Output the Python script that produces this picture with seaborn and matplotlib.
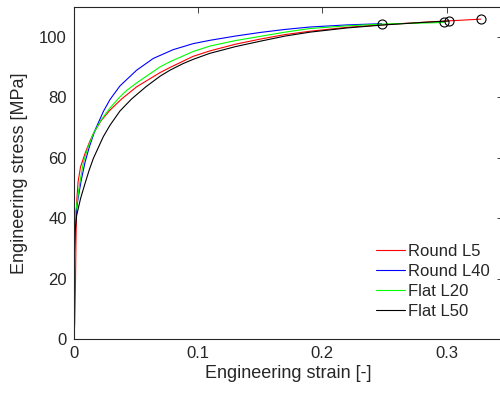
import numpy as np
import pandas as pd
import matplotlib
matplotlib.use("Agg")
import matplotlib.pyplot as plt
import seaborn as sns

# Engineering stress-strain curves for four specimen geometries
round_l5_strain = [0, 0.0008, 0.0014, 0.0018, 0.0022, 0.0025, 0.0035, 0.0055, 0.0091, 0.0125,
                   0.0158, 0.022, 0.0292, 0.0386, 0.0506, 0.0694, 0.0774, 0.0961, 0.1096, 0.13,
                   0.15, 0.17, 0.19, 0.22, 0.25, 0.2865, 0.3274]
round_l5_stress = [0, 5, 18, 32, 41, 46, 52, 57, 61.4, 65,
                   68, 72.3, 75.8, 79.5, 83.5, 88.2, 89.9, 93.6, 95.4, 97.6,
                   99.3, 100.8, 101.9, 103.2, 104.1, 105.0, 105.9]

round_l40_strain = [0, 0.0004, 0.0012, 0.0022, 0.0035, 0.006, 0.0091, 0.0125, 0.0171, 0.0238,
                    0.0292, 0.0372, 0.0506, 0.064, 0.08, 0.0961, 0.1096, 0.13, 0.15, 0.17,
                    0.19, 0.22, 0.2476]
round_l40_stress = [0, 25, 38, 43, 46.5, 52.5, 58.5, 63.5, 69.1, 75.3,
                    79.3, 83.8, 89.0, 92.9, 95.8, 97.8, 98.9, 100.3, 101.5, 102.5,
                    103.3, 104.0, 104.4]

flat_l20_strain = [0, 0.0003, 0.0008, 0.0015, 0.003, 0.005, 0.0078, 0.0115, 0.0158, 0.022,
                   0.0292, 0.0372, 0.0426, 0.0506, 0.0694, 0.0774, 0.0961, 0.1096, 0.13, 0.15,
                   0.17, 0.19, 0.22, 0.25, 0.298]
flat_l20_stress = [0, 20, 36, 42, 46, 52, 58.5, 63.5, 68, 72.5,
                   76.5, 80.2, 82.3, 84.8, 90.1, 91.8, 95.2, 97.0, 98.8, 100.2,
                   101.6, 102.8, 103.7, 104.3, 104.8]

flat_l50_strain = [0, 0.0003, 0.0012, 0.0024, 0.0055, 0.0091, 0.0125, 0.0158, 0.0238, 0.0292,
                   0.0372, 0.0466, 0.058, 0.0694, 0.0774, 0.088, 0.0961, 0.1096, 0.13, 0.15,
                   0.17, 0.19, 0.22, 0.25, 0.28, 0.3017]
flat_l50_stress = [0, 25, 36, 41, 46.5, 51.5, 56, 59.8, 67, 70.8,
                   75.5, 79.5, 83.5, 87.0, 89.0, 91.2, 92.6, 94.6, 96.8, 98.6,
                   100.3, 101.6, 103.0, 104.0, 104.8, 105.3]

series_names = ["Round L5", "Round L40", "Flat L20", "Flat L50"]
series_colors = ["#ff0000", "#0000ff", "#00ff00", "#000000"]
x_ticks = [0, 0.1, 0.2, 0.3]
x_tick_labels = ["0", "0.1", "0.2", "0.3"]
y_ticks = [0, 20, 40, 60, 80, 100]

curves = [
    (round_l5_strain, round_l5_stress),
    (round_l40_strain, round_l40_stress),
    (flat_l20_strain, flat_l20_stress),
    (flat_l50_strain, flat_l50_stress),
]

frames = []
for name, (e, s) in zip(series_names, curves):
    frames.append(pd.DataFrame({"strain": e, "stress": s, "specimen": name}))
df = pd.concat(frames, ignore_index=True)

sns.set_style("white")
plt.rcParams["font.family"] = ["Liberation Sans", "DejaVu Sans"]

fig = plt.figure(figsize=(5.0, 3.98), dpi=100)
ax = fig.add_axes([0.1474, 0.148, 0.858, 0.835])

sns.lineplot(data=df, x="strain", y="stress", hue="specimen", hue_order=series_names,
             palette=series_colors, sort=False, estimator=None, linewidth=0.8, ax=ax)

# Open circles mark the fracture point at the end of each curve
for e, s in curves:
    ax.plot(e[-1], s[-1], marker="o", markersize=6.5, markerfacecolor="none",
            markeredgecolor="black", markeredgewidth=0.8, linestyle="none")

ax.set_xlim(0, 0.345)
ax.set_ylim(0, 110)
ax.set_xticks(x_ticks)
ax.set_xticklabels(x_tick_labels)
ax.set_yticks(y_ticks)
ax.tick_params(axis="both", which="both", direction="in", length=4, width=0.6,
               labelsize=12, colors="#262626", top=True, right=True, pad=5)
for side in ["left", "bottom", "top", "right"]:
    ax.spines[side].set_color("#262626")
    ax.spines[side].set_linewidth(0.8)

ax.set_xlabel("Engineering strain [-]", fontsize=13, color="#262626", labelpad=3)
ax.set_ylabel("Engineering stress [MPa]", fontsize=13, color="#262626", labelpad=8)

leg = ax.legend(loc="lower right", bbox_to_anchor=(1.005, 0.015), frameon=False,
                fontsize=12, handlelength=1.75, handletextpad=0.2, labelspacing=0.3)
for line in leg.get_lines():
    line.set_linewidth(0.8)

fig.savefig("out.png", dpi=100)
